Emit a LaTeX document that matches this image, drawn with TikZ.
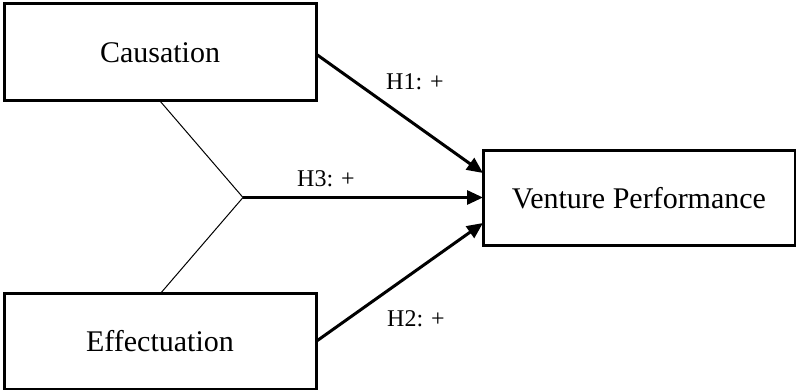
\documentclass[tikz,border=0pt]{standalone}
\usepackage{fontspec}
\setmainfont{Liberation Serif}
\usetikzlibrary{arrows.meta}
\begin{document}
\begin{tikzpicture}[x=1pt,y=-1pt,
  boxnode/.style={draw=black,line width=3pt,minimum width=312pt,inner sep=0pt,outer sep=0pt,font=\fontsize{30}{34}\selectfont},
  hyparrow/.style={line width=3pt,-{Triangle[length=16pt,width=14pt]}},
  yline/.style={line width=1pt},
  hlabel/.style={font=\fontsize{24}{28}\selectfont,inner sep=0pt}]
\useasboundingbox (0,0) rectangle (796,390);
\node[boxnode,minimum height=97pt] (caus) at (160,52.5) {Causation};
\node[boxnode,minimum height=95pt] (effe) at (160,341.5) {Effectuation};
\node[boxnode,minimum height=95.5pt] (vp) at (639,198) {Venture Performance};
\coordinate (junc) at (243,197.5);
\draw[yline] (caus.south) -- (junc);
\draw[yline] (effe.north) -- (junc);
\draw[hyparrow] (junc) -- (vp.west |- junc);
\draw[hyparrow] ([yshift=-1.5pt]caus.east) -- ([yshift=25pt]vp.west);
\draw[hyparrow] (effe.east) -- ([yshift=-25pt]vp.west);
\node[hlabel] (h1) at (415,82) {H1: +};
\node[hlabel] (h3) at (326,179) {H3: +};
\node[hlabel] (h2) at (416,319) {H2: +};
\end{tikzpicture}
\end{document}
